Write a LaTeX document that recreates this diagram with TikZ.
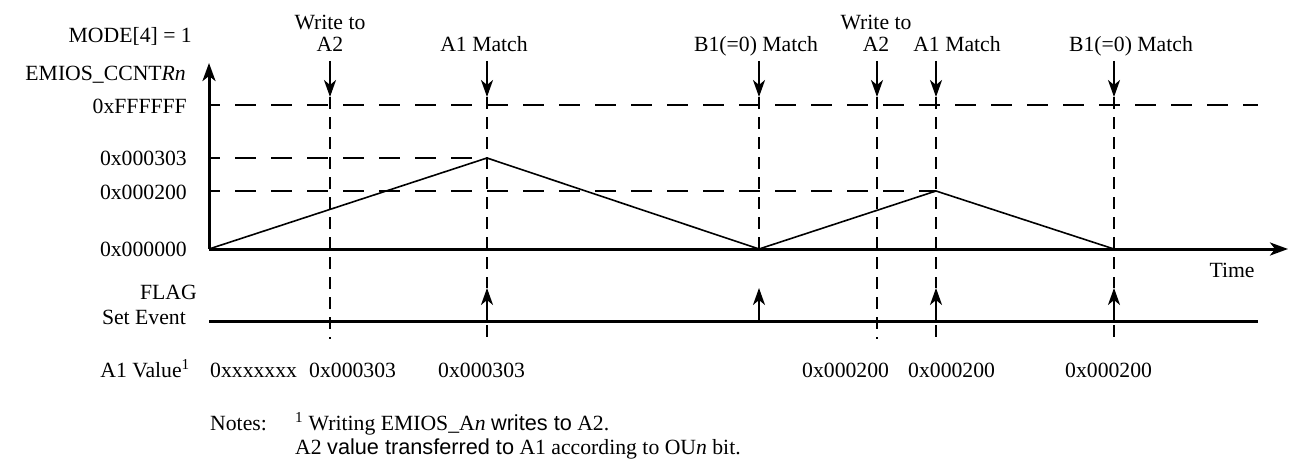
\documentclass[tikz,border=0pt]{standalone}
\usepackage{fontspec}
\setmainfont{Liberation Serif}
\newfontfamily\arialf{Liberation Sans}
\usetikzlibrary{arrows.meta}
\begin{document}
\begin{tikzpicture}[x=1pt,y=-1pt,
  font=\fontsize{21.7}{23.5}\selectfont,
  axisline/.style={line width=3pt},
  hdash/.style={line width=2.6pt, dash pattern=on 21pt off 15pt, dash phase=10pt},
  vdash/.style={line width=2.6pt, dash pattern=on 12pt off 8pt},
  arr/.style={line width=2.3pt,-{Stealth[length=17pt,width=12pt,inset=5pt]}},
  wave/.style={line width=1.6pt},
  lbl/.style={inner sep=0pt}]
\useasboundingbox (0,0) rectangle (1289,460);

% axes
\coordinate (O) at (209,249);
\coordinate (Ytip) at (209,63);
\coordinate (Xtip) at (1288,249);
\coordinate (F0) at (209,321);
\coordinate (F1) at (1258,321);
\draw[axisline,-{Stealth[length=18pt,width=13pt,inset=5pt]}] (O) -- (Ytip);
\draw[axisline,-{Stealth[length=18pt,width=13pt,inset=5pt]}] (O) -- (Xtip);
\draw[axisline] (F0) -- (F1);

% horizontal dashed levels
\coordinate (hF0) at (209,105); \coordinate (hF1) at (1258,105);
\coordinate (h30) at (209,158); \coordinate (h31) at (487,158);
\coordinate (h20) at (209,191); \coordinate (h21) at (936,191);
\draw[hdash] (hF0) -- (hF1);
\draw[hdash] (h30) -- (h31);
\draw[hdash] (h20) -- (h21);

% waveform
\coordinate (P1) at (487,158);
\coordinate (P2) at (759,249);
\coordinate (P3) at (936,191);
\coordinate (P4) at (1114,249);
\draw[wave] (O) -- (P1) -- (P2) -- (P3) -- (P4);

% event top arrows
\foreach \n/\x in {wa/330, am/487, bm/759, wb/877, an/936, bn/1114}{
  \coordinate (\n-top) at (\x,61);
  \coordinate (\n-hit) at (\x,97);
  \coordinate (\n-ax) at (\x,249);
  \coordinate (\n-tip) at (\x,288);
  \coordinate (\n-fl) at (\x,321);
  \coordinate (\n-bot) at (\x,339);
  \draw[arr] (\n-top) -- (\n-hit);
}
% vertical dashed lines
\draw[vdash] (wa-hit) -- (wa-bot);
\draw[vdash] (wb-hit) -- (wb-bot);
\draw[vdash] (am-hit) -- (am-tip);
\draw[vdash] (an-hit) -- (an-tip);
\draw[vdash] (bn-hit) -- (bn-tip);
\draw[vdash] (bm-hit) -- (bm-ax);
\draw[vdash, dash phase=-4pt] (am-fl) -- (am-bot);
\draw[vdash, dash phase=-4pt] (an-fl) -- (an-bot);
\draw[vdash, dash phase=-4pt] (bn-fl) -- (bn-bot);

% flag arrows
\draw[arr] (am-fl) -- (am-tip);
\draw[arr] (bm-fl) -- (bm-tip);
\draw[arr] (an-fl) -- (an-tip);
\draw[arr] (bn-fl) -- (bn-tip);

% left labels
\node[lbl,anchor=base east] (mode) at (192,43) {MODE[4] = 1};
\node[lbl,anchor=base east] (ccnt) at (186,80) {EMIOS\_CCNT\textit{Rn}};
\node[lbl,anchor=base east] (lF) at (187,113) {0xFFFFFF};
\node[lbl,anchor=base east] (l3) at (187,165) {0x000303};
\node[lbl,anchor=base east] (l2) at (187,199) {0x000200};
\node[lbl,anchor=base east] (l0) at (187,256) {0x000000};
\node[lbl,anchor=base east] (flag) at (197,299) {FLAG};
\node[lbl,anchor=base east] (setev) at (186,324) {Set Event};
\node[lbl,anchor=base east] (a1v) at (190,377) {A1 Value\textsuperscript{1}};

% top labels
\node[lbl,anchor=base] (twa1) at (330,30) {Write to};
\node[lbl,anchor=base] (twa2) at (330,52) {A2};
\node[lbl,anchor=base] (tam) at (484,52) {A1 Match};
\node[lbl,anchor=base] (tbm) at (756,52) {B1(=0) Match};
\node[lbl,anchor=base] (twb1) at (876,30) {Write to};
\node[lbl,anchor=base] (twb2) at (876,52) {A2};
\node[lbl,anchor=base] (tan) at (957,52) {A1 Match};
\node[lbl,anchor=base] (tbn) at (1131,52) {B1(=0) Match};
\node[lbl,anchor=base] (time) at (1232,277) {Time};

% A1 values
\node[lbl,anchor=base west] (v0) at (210,377) {0xxxxxxx};
\node[lbl,anchor=base west] (v1) at (309,377) {0x000303};
\node[lbl,anchor=base west] (v2) at (438,377) {0x000303};
\node[lbl,anchor=base west] (v3) at (802,377) {0x000200};
\node[lbl,anchor=base west] (v4) at (908,377) {0x000200};
\node[lbl,anchor=base west] (v5) at (1065,377) {0x000200};

% notes
\node[lbl,anchor=base west] (notes) at (210,430) {Notes:};
\node[lbl,anchor=base west] (n1) at (295,430) {\textsuperscript{1} Writing EMIOS\_A\textit{n} {\arialf writes to} A2.};
\node[lbl,anchor=base west] (n2) at (295,454) {A2 {\arialf value transferred to} A1 according to OU\textit{n} bit.};
\end{tikzpicture}
\end{document}
